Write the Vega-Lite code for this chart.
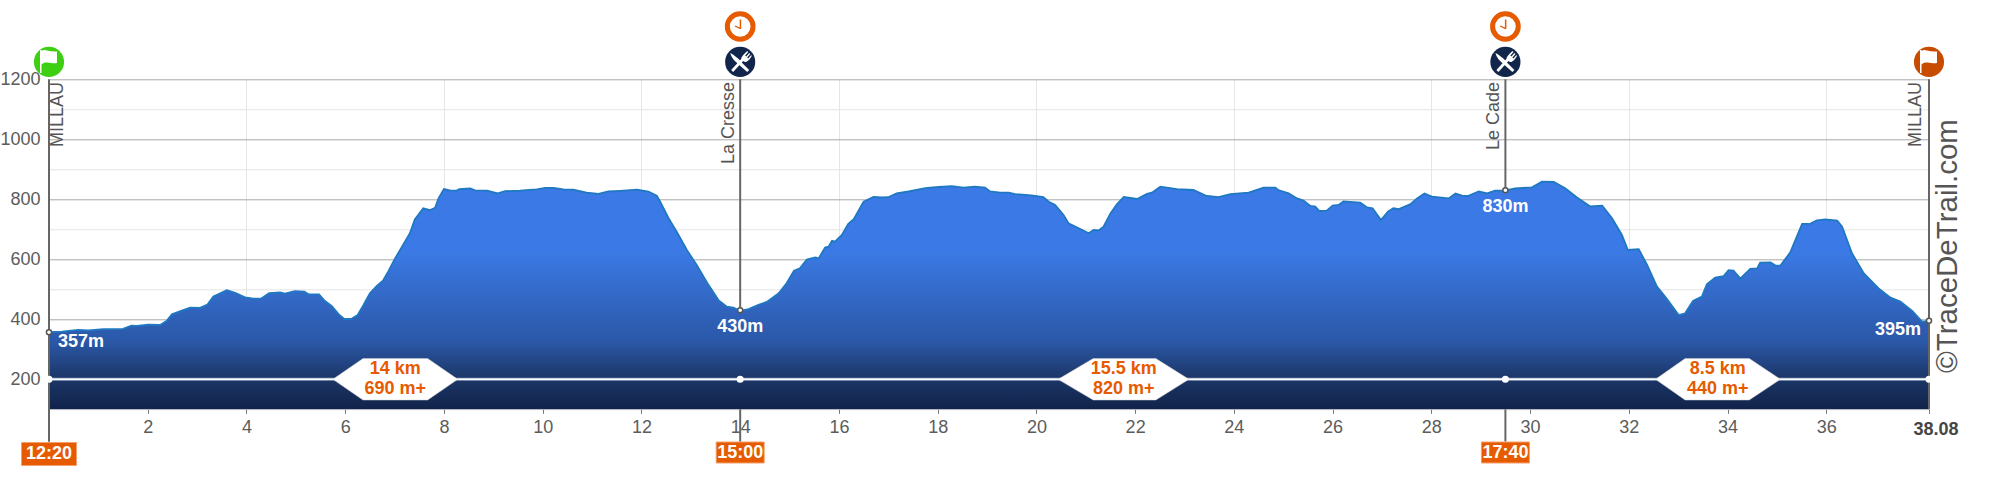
{
"$schema":"https://vega.github.io/schema/vega-lite/v6.json",
"width":1880,"height":330,
"autosize":{"type":"none"},
"padding":{"left":49,"top":79.3,"right":71,"bottom":80.7},
"background":"white",
"config":{"view":{"stroke":null},"text":{"font":"Liberation Sans"},"axis":{"labelFont":"Liberation Sans"}},
"datasets":{
"profile":[
{"km":0,"elev":357},{"km":0.26,"elev":359},{"km":0.59,"elev":365},{"km":0.8,"elev":363},{"km":1.1,"elev":367},{"km":1.5,"elev":368},{"km":1.67,"elev":379},{"km":1.78,"elev":378},{"km":2.01,"elev":382},{"km":2.25,"elev":381},{"km":2.38,"elev":394},{"km":2.49,"elev":417},{"km":2.69,"elev":429},{"km":2.86,"elev":439},{"km":3.06,"elev":438},{"km":3.21,"elev":449},{"km":3.33,"elev":476},{"km":3.47,"elev":487},{"km":3.6,"elev":497},{"km":3.77,"elev":488},{"km":3.97,"elev":473},{"km":4.14,"elev":469},{"km":4.3,"elev":469},{"km":4.46,"elev":487},{"km":4.68,"elev":490},{"km":4.78,"elev":486},{"km":4.98,"elev":494},{"km":5.17,"elev":492},{"km":5.25,"elev":484},{"km":5.47,"elev":483},{"km":5.59,"elev":461},{"km":5.73,"elev":444},{"km":5.86,"elev":418},{"km":5.98,"elev":401},{"km":6.12,"elev":401},{"km":6.25,"elev":414},{"km":6.37,"elev":448},{"km":6.5,"elev":487},{"km":6.64,"elev":511},{"km":6.77,"elev":530},{"km":6.87,"elev":559},{"km":7.01,"elev":603},{"km":7.18,"elev":650},{"km":7.31,"elev":687},{"km":7.41,"elev":733},{"km":7.58,"elev":770},{"km":7.72,"elev":764},{"km":7.82,"elev":772},{"km":7.89,"elev":803},{"km":8.0,"elev":834},{"km":8.12,"elev":830},{"km":8.26,"elev":829},{"km":8.31,"elev":834},{"km":8.53,"elev":836},{"km":8.63,"elev":830},{"km":8.87,"elev":829},{"km":9.09,"elev":820},{"km":9.24,"elev":827},{"km":9.54,"elev":829},{"km":9.88,"elev":833},{"km":10.05,"elev":838},{"km":10.22,"elev":838},{"km":10.42,"elev":833},{"km":10.62,"elev":832},{"km":10.89,"elev":822},{"km":11.13,"elev":818},{"km":11.33,"elev":826},{"km":11.57,"elev":828},{"km":11.91,"elev":832},{"km":12.14,"elev":826},{"km":12.31,"elev":812},{"km":12.38,"elev":792},{"km":12.55,"elev":737},{"km":12.72,"elev":690},{"km":12.92,"elev":631},{"km":13.12,"elev":581},{"km":13.36,"elev":514},{"km":13.56,"elev":464},{"km":13.73,"elev":442},{"km":13.86,"elev":439},{"km":14.0,"elev":428},{"km":14.17,"elev":434},{"km":14.37,"elev":448},{"km":14.54,"elev":458},{"km":14.78,"elev":487},{"km":14.94,"elev":520},{"km":15.09,"elev":562},{"km":15.21,"elev":570},{"km":15.35,"elev":599},{"km":15.52,"elev":606},{"km":15.59,"elev":603},{"km":15.72,"elev":639},{"km":15.79,"elev":642},{"km":15.86,"elev":662},{"km":15.92,"elev":659},{"km":16.06,"elev":681},{"km":16.19,"elev":718},{"km":16.3,"elev":734},{"km":16.5,"elev":792},{"km":16.7,"elev":808},{"km":16.87,"elev":806},{"km":17.0,"elev":807},{"km":17.17,"elev":820},{"km":17.41,"elev":826},{"km":17.75,"elev":837},{"km":18.02,"elev":841},{"km":18.29,"elev":844},{"km":18.52,"elev":839},{"km":18.76,"elev":842},{"km":18.96,"elev":839},{"km":19.06,"elev":826},{"km":19.27,"elev":822},{"km":19.44,"elev":822},{"km":19.57,"elev":817},{"km":19.84,"elev":814},{"km":19.98,"elev":811},{"km":20.14,"elev":807},{"km":20.25,"elev":792},{"km":20.38,"elev":781},{"km":20.55,"elev":748},{"km":20.65,"elev":720},{"km":20.89,"elev":701},{"km":21.06,"elev":687},{"km":21.16,"elev":698},{"km":21.26,"elev":696},{"km":21.36,"elev":709},{"km":21.5,"elev":753},{"km":21.63,"elev":783},{"km":21.77,"elev":808},{"km":22.04,"elev":801},{"km":22.24,"elev":818},{"km":22.34,"elev":822},{"km":22.51,"elev":842},{"km":22.85,"elev":834},{"km":23.18,"elev":831},{"km":23.45,"elev":811},{"km":23.69,"elev":807},{"km":23.93,"elev":817},{"km":24.3,"elev":822},{"km":24.6,"elev":839},{"km":24.84,"elev":839},{"km":24.9,"elev":831},{"km":25.11,"elev":820},{"km":25.28,"elev":803},{"km":25.41,"elev":796},{"km":25.55,"elev":778},{"km":25.65,"elev":776},{"km":25.73,"elev":761},{"km":25.88,"elev":762},{"km":26.0,"elev":779},{"km":26.12,"elev":781},{"km":26.22,"elev":793},{"km":26.56,"elev":789},{"km":26.7,"elev":773},{"km":26.81,"elev":770},{"km":26.98,"elev":731},{"km":27.12,"elev":759},{"km":27.23,"elev":770},{"km":27.34,"elev":767},{"km":27.57,"elev":783},{"km":27.71,"elev":803},{"km":27.86,"elev":819},{"km":28.01,"elev":809},{"km":28.35,"elev":803},{"km":28.49,"elev":819},{"km":28.62,"elev":812},{"km":28.74,"elev":811},{"km":28.96,"elev":826},{"km":29.13,"elev":820},{"km":29.29,"elev":829},{"km":29.5,"elev":830},{"km":29.7,"elev":836},{"km":30.04,"elev":840},{"km":30.24,"elev":859},{"km":30.48,"elev":858},{"km":30.71,"elev":837},{"km":30.95,"elev":806},{"km":31.22,"elev":776},{"km":31.46,"elev":779},{"km":31.66,"elev":737},{"km":31.86,"elev":681},{"km":31.98,"elev":631},{"km":32.2,"elev":634},{"km":32.37,"elev":581},{"km":32.57,"elev":509},{"km":32.77,"elev":468},{"km":33.01,"elev":414},{"km":33.14,"elev":420},{"km":33.3,"elev":461},{"km":33.48,"elev":476},{"km":33.58,"elev":517},{"km":33.75,"elev":539},{"km":33.92,"elev":544},{"km":34.02,"elev":564},{"km":34.12,"elev":562},{"km":34.26,"elev":536},{"km":34.46,"elev":568},{"km":34.6,"elev":570},{"km":34.66,"elev":589},{"km":34.87,"elev":590},{"km":34.97,"elev":579},{"km":35.07,"elev":579},{"km":35.27,"elev":623},{"km":35.51,"elev":718},{"km":35.68,"elev":719},{"km":35.81,"elev":730},{"km":35.98,"elev":733},{"km":36.22,"elev":729},{"km":36.32,"elev":709},{"km":36.52,"elev":620},{"km":36.76,"elev":553},{"km":37.06,"elev":503},{"km":37.3,"elev":472},{"km":37.5,"elev":459},{"km":37.74,"elev":428},{"km":37.94,"elev":392},{"km":38.08,"elev":395}
],
"aid":[{"km":14,"elev":430,"name":"La Cresse","time":"15:00","lbl":"430m"},{"km":29.5,"elev":830,"name":"Le Cade","time":"17:40","lbl":"830m"}],
"start":[{"km":0,"elev":357,"name":"MILLAU","time":"12:20","lbl":"357m"}],
"finish":[{"km":38.08,"elev":395,"name":"MILLAU","lbl":"395m"}],
"hex":[
{"seg":"a","km":5.75,"top":200,"bot":200},{"seg":"a","km":6.36,"top":269,"bot":131},{"seg":"a","km":7.67,"top":269,"bot":131},{"seg":"a","km":8.28,"top":200,"bot":200},
{"seg":"b","km":20.44,"top":200,"bot":200},{"seg":"b","km":21.15,"top":269,"bot":131},{"seg":"b","km":22.42,"top":269,"bot":131},{"seg":"b","km":23.09,"top":200,"bot":200},
{"seg":"c","km":32.54,"top":200,"bot":200},{"seg":"c","km":33.14,"top":269,"bot":131},{"seg":"c","km":34.44,"top":269,"bot":131},{"seg":"c","km":35.07,"top":200,"bot":200}
],
"segments":[{"km":7.015,"elev":200,"dist":"14 km","gain":"690 m+"},{"km":21.77,"elev":200,"dist":"15.5 km","gain":"820 m+"},{"km":33.8,"elev":200,"dist":"8.5 km","gain":"440 m+"}],
"stops":[{"km":0,"elev":200},{"km":14,"elev":200},{"km":29.5,"elev":200},{"km":38.08,"elev":200}]
},
"encoding":{
"x":{"field":"km","type":"quantitative","scale":{"domain":[0,38.08],"nice":false,"zero":false},"title":null,
"axis":{"title":null,"values":[2,4,6,8,10,12,14,16,18,20,22,24,26,28,30,32,34,36,38.08],"labelExpr":"datum.value%2==0 ? datum.label : ''","domain":false,"tickColor":"#777","tickSize":4,"labelFontSize":18,"labelColor":"#5c5c5c","labelPadding":5,"labelFlush":false,"labelOverlap":false,"grid":true,"gridColor":"#e6e6e6","gridWidth":1,"gridOpacity":{"condition":{"test":"datum.value%4==0","value":1},"value":0}}},
"y":{"field":"elev","type":"quantitative","scale":{"domain":[100,1200],"nice":false,"zero":false},"title":null,
"axis":{"title":null,"values":[100,200,300,400,500,600,700,800,900,1000,1100,1200],"format":"d","labelExpr":"datum.value%200==0 ? datum.label : ''","domain":false,"ticks":false,"labelFontSize":18,"labelColor":"#5c5c5c","labelPadding":9,"labelOverlap":false,"grid":true,"gridColor":{"condition":{"test":"datum.value%200==0","value":"#a8a8a8"},"value":"#e4e4e4"}}}
},
"layer":[
{"data":{"name":"aid"},"mark":{"type":"rule","color":"#666","strokeWidth":2},"encoding":{"y":{"datum":1200,"type":"quantitative","title":null},"y2":{"field":"elev"}}},
{"data":{"name":"profile"},"mark":{"type":"area","interpolate":"linear","color":{"gradient":"linear","x1":0,"y1":0,"x2":0,"y2":1,"stops":[{"offset":0,"color":"#3b7ae6"},{"offset":0.3,"color":"#3b7ae6"},{"offset":0.7,"color":"#2b58a8"},{"offset":0.86,"color":"#1c3769"},{"offset":1,"color":"#11234a"}]}},"encoding":{"y2":{"datum":100}}},
{"data":{"name":"profile"},"mark":{"type":"line","color":"#1f78c1","strokeWidth":1.8}},
{"data":{"name":"aid"},"mark":{"type":"rule","color":"#666","strokeWidth":2},"encoding":{"y":{"datum":100,"type":"quantitative","title":null},"y2":{"datum":-8}}},
{"data":{"name":"start"},"mark":{"type":"rule","color":"#666","strokeWidth":2},"encoding":{"y":{"datum":1200,"type":"quantitative","title":null},"y2":{"datum":-8}}},
{"data":{"name":"finish"},"mark":{"type":"rule","color":"#666","strokeWidth":2},"encoding":{"y":{"datum":1200,"type":"quantitative","title":null},"y2":{"datum":100}}},
{"data":{"values":[{"km":0,"end":38.08,"elev":200}]},"mark":{"type":"rule","color":"#8fa3c2","strokeWidth":3},"encoding":{"x2":{"field":"end"}}},
{"data":{"values":[{"km":0,"end":38.08,"elev":200}]},"mark":{"type":"rule","color":"white","strokeWidth":1.6},"encoding":{"x2":{"field":"end"}}},
{"data":{"name":"stops"},"mark":{"type":"circle","color":"white","opacity":1,"size":50}},
{"data":{"name":"hex"},"mark":{"type":"area","color":"white","stroke":"#d0d0d0","strokeWidth":0.5},"encoding":{"detail":{"field":"seg"},"y":{"field":"top","type":"quantitative","title":null},"y2":{"field":"bot"}}},
{"data":{"name":"segments"},"mark":{"type":"text","color":"#e65a00","fontWeight":"bold","fontSize":18,"baseline":"middle","dy":-10},"encoding":{"text":{"field":"dist"}}},
{"data":{"name":"segments"},"mark":{"type":"text","color":"#e65a00","fontWeight":"bold","fontSize":18,"baseline":"middle","dy":10},"encoding":{"text":{"field":"gain"}}},
{"data":{"values":[{"km":0,"elev":357},{"km":14,"elev":430},{"km":29.5,"elev":830},{"km":38.08,"elev":395}]},"mark":{"type":"point","filled":true,"fill":"white","stroke":"#555","strokeWidth":1.5,"opacity":1,"size":26}},
{"data":{"name":"start"},"mark":{"type":"text","color":"white","fontWeight":"bold","fontSize":18,"align":"left","baseline":"middle","dx":9,"dy":10},"encoding":{"text":{"field":"lbl"}}},
{"data":{"name":"aid"},"mark":{"type":"text","color":"white","fontWeight":"bold","fontSize":18,"align":"center","baseline":"middle","dy":17},"encoding":{"text":{"field":"lbl"}}},
{"data":{"name":"finish"},"mark":{"type":"text","color":"white","fontWeight":"bold","fontSize":18,"align":"right","baseline":"middle","dx":-8,"dy":9},"encoding":{"text":{"field":"lbl"}}},
{"data":{"name":"start"},"mark":{"type":"text","color":"#555","fontSize":18,"angle":270,"align":"right","baseline":"middle","dy":9},"encoding":{"text":{"field":"name"},"y":{"datum":1191,"type":"quantitative","title":null}}},
{"data":{"name":"aid"},"mark":{"type":"text","color":"#555","fontSize":18,"angle":270,"align":"right","baseline":"middle","dy":-11},"encoding":{"text":{"field":"name"},"y":{"datum":1191,"type":"quantitative","title":null}}},
{"data":{"name":"finish"},"mark":{"type":"text","color":"#555","fontSize":18,"angle":270,"align":"right","baseline":"middle","dy":-13},"encoding":{"text":{"field":"name"},"y":{"datum":1191,"type":"quantitative","title":null}}},
{"data":{"name":"finish"},"mark":{"type":"text","color":"#555","fontSize":29.5,"angle":270,"align":"left","baseline":"alphabetic","dy":28},"encoding":{"text":{"value":"©TraceDeTrail.com"},"y":{"datum":221,"type":"quantitative","title":null}}},
{"data":{"name":"finish"},"mark":{"type":"text","color":"#444","fontWeight":"bold","fontSize":18,"align":"center","baseline":"middle","dx":7},"encoding":{"text":{"value":"38.08"},"y":{"datum":30,"type":"quantitative","title":null}}},
{"data":{"name":"start"},"mark":{"type":"rect","width":55,"height":23,"color":"#e65a00","stroke":"#f4a070","strokeWidth":1},"encoding":{"y":{"datum":-49,"type":"quantitative","title":null}}},
{"data":{"name":"aid"},"mark":{"type":"rect","width":48,"height":21,"color":"#e65a00","stroke":"#f4a070","strokeWidth":1},"encoding":{"y":{"datum":-44,"type":"quantitative","title":null}}},
{"data":{"name":"start"},"mark":{"type":"text","color":"white","fontWeight":"bold","fontSize":18,"baseline":"middle"},"encoding":{"text":{"field":"time"},"y":{"datum":-49,"type":"quantitative","title":null}}},
{"data":{"name":"aid"},"mark":{"type":"text","color":"white","fontWeight":"bold","fontSize":18,"baseline":"middle"},"encoding":{"text":{"field":"time"},"y":{"datum":-44,"type":"quantitative","title":null}}},
{"data":{"name":"start"},"mark":{"type":"point","shape":"circle","filled":true,"color":"#3fcf12","opacity":1,"size":908},"encoding":{"y":{"datum":1258,"type":"quantitative","title":null}}},
{"data":{"name":"finish"},"mark":{"type":"point","shape":"circle","filled":true,"color":"#c84c00","opacity":1,"size":908},"encoding":{"y":{"datum":1258,"type":"quantitative","title":null}}},
{"data":{"name":"aid"},"mark":{"type":"point","shape":"circle","filled":true,"color":"#12264c","opacity":1,"size":908},"encoding":{"y":{"datum":1258,"type":"quantitative","title":null}}},
{"data":{"name":"aid"},"mark":{"type":"point","shape":"circle","filled":true,"fill":"white","stroke":"#e65a00","strokeWidth":5,"opacity":1,"size":660},"encoding":{"y":{"datum":1376,"type":"quantitative","title":null}}},
{"data":{"name":"start"},"mark":{"type":"point","filled":true,"color":"white","opacity":1,"size":4,"shape":"M-9,-12L-7.5,-12L-7.5,-11C-4,-13.5 -1,-9.5 8,-10.5L8,1C0,2.5 -3,-1.5 -7.5,2.5L-7.5,11L-9,11Z"},"encoding":{"y":{"datum":1258,"type":"quantitative","title":null}}},
{"data":{"name":"finish"},"mark":{"type":"point","filled":true,"color":"white","opacity":1,"size":4,"shape":"M-9,-12L-7.5,-12L-7.5,-11C-4,-13.5 -1,-9.5 8,-10.5L8,1C0,2.5 -3,-1.5 -7.5,2.5L-7.5,11L-9,11Z"},"encoding":{"y":{"datum":1258,"type":"quantitative","title":null}}},
{"data":{"name":"aid"},"mark":{"type":"point","filled":true,"color":"white","opacity":1,"size":4,"shape":"M-10,-9C-6,-7 -1,-3 1,0L9,8L7,10L-2,2C-6,-1 -9,-5 -10,-9ZM-9,8L1,-3C1,-5 3,-7 4,-8L7,-11L8,-10L5,-6.5L6,-5.5L9,-9L10,-8L7,-4.5L8,-3.5L11,-7L11.5,-6C10,-3 8,-1 6,0C5,0.5 4,0 3,-1L-7,10Z"},"encoding":{"y":{"datum":1258,"type":"quantitative","title":null}}},
{"data":{"name":"aid"},"mark":{"type":"point","filled":true,"color":"#e65a00","opacity":1,"size":4,"shape":"M-0.5,-7L1,-7L1,2.5L-0.5,2.5L-5.5,0L-5,-1L-0.5,1Z"},"encoding":{"y":{"datum":1376,"type":"quantitative","title":null}}}
]
}
